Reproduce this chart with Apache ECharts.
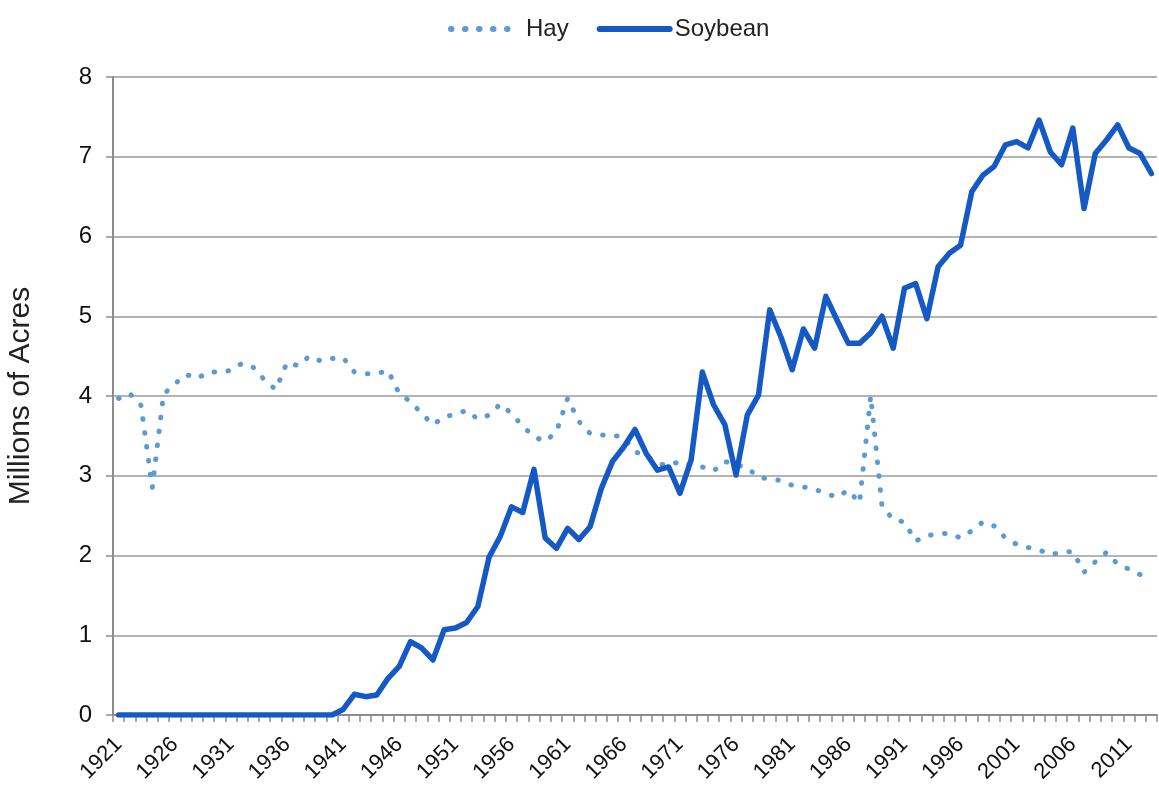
<!DOCTYPE html>
<html><head><meta charset="utf-8">
<script src="https://cdn.jsdelivr.net/npm/echarts@6/dist/echarts.min.js"></script>
<style>html,body{margin:0;padding:0;background:#fff}#c{width:1159px;height:787px}</style>
</head><body><div id="c"></div>
<script>
const years = [];
for (let y = 1921; y <= 2013; y++) years.push(String(y));

const hay = [
 3.97, 4.03, 3.88, 2.85, 4.02, 4.15, 4.27, 4.22, 4.30, 4.30,   // 1921-1930
 4.32, 4.41, 4.36, 4.20, 4.08, 4.42, 4.38, 4.50, 4.44, 4.47,   // 1931-1940
 4.48, 4.30, 4.28, 4.28, 4.32, 4.03, 3.93, 3.78, 3.64, 3.74,   // 1941-1950
 3.77, 3.82, 3.71, 3.76, 3.90, 3.78, 3.62, 3.49, 3.43, 3.55,   // 1951-1960
 3.97, 3.68, 3.53, 3.51, 3.51, 3.48, 3.30, 3.25, 3.15, 3.13,   // 1961-1970
 3.18, 3.14, 3.11, 3.06, 3.18, 3.14, 3.10, 2.98, 2.96, 2.94,   // 1971-1980
 2.88, 2.86, 2.83, 2.78, 2.73, 2.82, 2.66, 4.00, 2.62, 2.45,   // 1981-1990
 2.42, 2.18, 2.25, 2.27, 2.28, 2.22, 2.31, 2.42, 2.37, 2.22,   // 1991-2000
 2.14, 2.10, 2.07, 2.01, 2.04, 2.05, 1.79, 1.92, 2.04, 1.89,   // 2001-2010
 1.83, 1.76, 1.70                                              // 2011-2013
];

const soybean = [
 0, 0, 0, 0, 0, 0, 0, 0, 0, 0,                                 // 1921-1930
 0, 0, 0, 0, 0, 0, 0, 0, 0, 0,                                 // 1931-1940
 0.07, 0.26, 0.23, 0.25, 0.46, 0.61, 0.92, 0.84, 0.69, 1.07,   // 1941-1950
 1.09, 1.16, 1.36, 1.98, 2.24, 2.61, 2.54, 3.08, 2.22, 2.09,   // 1951-1960
 2.34, 2.20, 2.36, 2.84, 3.18, 3.36, 3.58, 3.28, 3.07, 3.11,   // 1961-1970
 2.78, 3.20, 4.30, 3.89, 3.64, 3.01, 3.76, 4.01, 5.08, 4.74,   // 1971-1980
 4.33, 4.84, 4.60, 5.25, 4.95, 4.66, 4.66, 4.79, 5.00, 4.60,   // 1981-1990
 5.35, 5.41, 4.97, 5.62, 5.79, 5.89, 6.56, 6.77, 6.88, 7.15,   // 1991-2000
 7.19, 7.11, 7.46, 7.06, 6.90, 7.36, 6.35, 7.04, 7.21, 7.40,   // 2001-2010
 7.11, 7.04, 6.79                                              // 2011-2013
];

const seriesNames = ['Hay', 'Soybean'];
const yTitle = 'Millions of Acres';

const chart = echarts.init(document.getElementById('c'), null, {renderer: 'canvas'});
const font = '"Liberation Sans", Arial, sans-serif';
chart.setOption({
  animation: false,
  backgroundColor: '#ffffff',
  textStyle: {fontFamily: font},
  legend: {
    top: 12, left: 443,
    itemWidth: 70, itemHeight: 14, itemGap: 28,
    itemStyle: {opacity: 0},
    lineStyle: {width: 6},
    textStyle: {fontSize: 24, color: '#222', fontFamily: font},
    data: seriesNames
  },
  grid: {left: 113, right: 2, top: 77, bottom: 72, containLabel: false, outerBoundsMode: 'none'},
  xAxis: {
    type: 'category', data: years, boundaryGap: true,
    axisLine: {lineStyle: {color: '#8c8c8c', width: 2}},
    axisTick: {show: true, interval: 0, length: 7, lineStyle: {color: '#8c8c8c', width: 1.5}},
    axisLabel: {interval: 4, rotate: 45, fontSize: 22, color: '#111', margin: 26, fontFamily: font},
    splitLine: {show: false}
  },
  yAxis: {
    type: 'value', min: 0, max: 8, interval: 1,
    name: yTitle, nameLocation: 'middle', nameGap: 77, nameRotate: 90,
    nameTextStyle: {fontSize: 30, color: '#222', fontFamily: font},
    axisLine: {show: true, lineStyle: {color: '#8c8c8c', width: 2}},
    axisTick: {show: true, length: 7, lineStyle: {color: '#8c8c8c', width: 1.5}},
    axisLabel: {fontSize: 24, color: '#111', margin: 21, fontFamily: font},
    splitLine: {lineStyle: {color: '#9a9a9a', width: 1.5}}
  },
  series: [
    {
      name: seriesNames[0], type: 'line', data: hay,
      symbol: 'none', smooth: false,
      color: '#5b9bd5',
      lineStyle: {color: '#5b9bd5', width: 5, type: [0.5, 13.5], cap: 'round', join: 'round'},
      z: 2
    },
    {
      name: seriesNames[1], type: 'line', data: soybean,
      symbol: 'none', smooth: false,
      color: '#1459c4',
      lineStyle: {color: '#1459c4', width: 5.5, cap: 'round', join: 'round'},
      z: 3
    }
  ]
});
</script></body></html>
